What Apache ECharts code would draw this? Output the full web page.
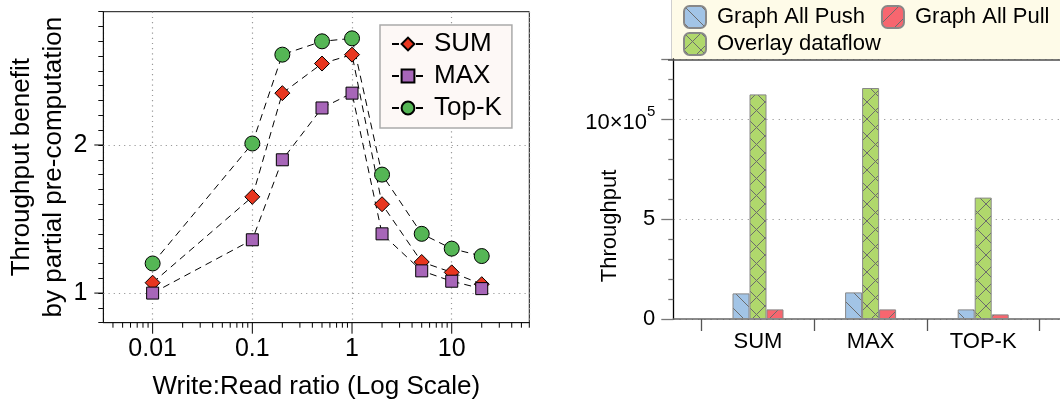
<!DOCTYPE html>
<html><head><meta charset="utf-8">
<script src="https://cdn.jsdelivr.net/npm/echarts@6/dist/echarts.min.js"></script>
<style>html,body{margin:0;padding:0;background:#fff}#c{width:1060px;height:408px}</style>
</head><body><div id="c"></div>
<script>
// ---- Left chart data ----
const ratios = [0.01, 0.1, 0.2, 0.5, 1, 2, 5, 10, 20];
const sumVals = [1.07, 1.65, 2.35, 2.55, 2.61, 1.60, 1.21, 1.14, 1.06];
const maxVals = [1.00, 1.36, 1.90, 2.25, 2.35, 1.40, 1.15, 1.08, 1.03];
const topkVals = [1.20, 2.01, 2.61, 2.70, 2.72, 1.80, 1.40, 1.30, 1.25];
const lineNames = ['SUM', 'MAX', 'Top-K'];
const xMajorTicks = [0.01, 0.1, 1, 10];
const xMinorTicks = [0.004, 0.005, 0.006, 0.007, 0.008, 0.009,
  0.02, 0.03, 0.04, 0.05, 0.06, 0.07, 0.08, 0.09,
  0.2, 0.3, 0.4, 0.5, 0.6, 0.7, 0.8, 0.9,
  2, 3, 4, 5, 6, 7, 8, 9, 20, 30, 40, 50, 60];
const yTickLabels = [1, 2];

// ---- Right chart data ----
const aggregates = ['SUM', 'MAX', 'TOP-K'];
const barNames = ['Graph All Push', 'Graph All Pull', 'Overlay dataflow'];
const pushVals = [128000, 133000, 48000];
const overlayVals = [1123000, 1155000, 607000];
const pullVals = [48000, 48000, 23000];

const FONT = '"Liberation Sans", Arial, Helvetica, sans-serif';

function hatch(bg, kind) {
  const s = 17;
  const c = document.createElement('canvas');
  c.width = s; c.height = s;
  const g = c.getContext('2d');
  g.fillStyle = bg; g.fillRect(0, 0, s, s);
  g.strokeStyle = '#6c6c6c'; g.lineWidth = 1;
  g.beginPath();
  if (kind.indexOf('\\') >= 0) { g.moveTo(0, 0); g.lineTo(s, s); }
  if (kind.indexOf('/') >= 0) { g.moveTo(s, 0); g.lineTo(0, s); }
  g.stroke();
  return c;
}
const bluePat = { image: hatch('#a2c4e6', '\\'), repeat: 'repeat' };
const greenPat = { image: hatch('#b0d86c', '\\/'), repeat: 'repeat' };
const redPat = { image: hatch('#f7666f', '/'), repeat: 'repeat' };

function pairs(xs, ys) { return xs.map((x, i) => [x, ys[i]]); }

// ticks drawn through the axes' own scale (api.coord)
function xTickSeries(vals, len) {
  return {
    type: 'custom', xAxisIndex: 0, yAxisIndex: 0, silent: true, clip: false, z: 6,
    data: vals.map(v => [v, 1]),
    renderItem: function (params, api) {
      const p = api.coord([api.value(0), api.value(1)]);
      const bottom = params.coordSys.y + params.coordSys.height;
      return { type: 'line', shape: { x1: p[0], y1: bottom, x2: p[0], y2: bottom + len },
        style: { stroke: '#000', lineWidth: 1 } };
    }
  };
}
function yTickSeries(vals, len) {
  return {
    type: 'custom', xAxisIndex: 0, yAxisIndex: 0, silent: true, clip: false, z: 6,
    data: vals.map(v => [1, v]),
    renderItem: function (params, api) {
      const p = api.coord([api.value(0), api.value(1)]);
      const left = params.coordSys.x;
      return { type: 'line', shape: { x1: left - len, y1: p[1], x2: left, y2: p[1] },
        style: { stroke: '#000', lineWidth: 1 } };
    }
  };
}

const dotted = { color: '#999', width: 1.2, type: [1.2, 4] };
const dashed = { color: '#000', width: 1, type: [7, 5] };

const chart = echarts.init(document.getElementById('c'));
const option = {
  animation: false,
  textStyle: { fontFamily: FONT, color: '#000' },
  graphic: [
    { type: 'rect', z: -10, shape: { x: 671.5, y: -2, width: 400, height: 62 },
      style: { fill: '#fefbe8', stroke: '#cfcfcf', lineWidth: 1 } },
    { type: 'line', z: 10, shape: { x1: 668, y1: 60, x2: 1060, y2: 60 },
      style: { stroke: '#555', lineWidth: 1.5 } },
    { type: 'text', x: 610, y: 226, rotation: Math.PI / 2,
      style: { text: 'Throughput', font: '22px ' + FONT, fill: '#000', align: 'center', verticalAlign: 'middle' } }
  ],
  legend: [
    { data: lineNames, orient: 'vertical', left: 380, top: 25, padding: [6, 10, 7, 11],
      itemGap: 6, itemWidth: 32, itemHeight: 16,
      backgroundColor: '#fdf8f6', borderColor: '#aaa', borderWidth: 1.5,
      textStyle: { fontSize: 26, fontFamily: FONT, color: '#000', padding: [0, 0, 0, 5] } },
    { data: [barNames[0], barNames[1]], orient: 'horizontal', left: 683, top: 5,
      itemGap: 16, itemWidth: 22, itemHeight: 22, icon: 'roundRect', padding: 0,
      textStyle: { fontSize: 22, fontFamily: FONT, color: '#000', padding: [0, 0, 0, 6] } },
    { data: [barNames[2]], orient: 'horizontal', left: 683, top: 32,
      itemGap: 16, itemWidth: 22, itemHeight: 22, icon: 'roundRect', padding: 0,
      textStyle: { fontSize: 22, fontFamily: FONT, color: '#000', padding: [0, 0, 0, 6] } }
  ],
  grid: [
    { left: 103.3, right: 1060 - 529.3, top: 11.7, bottom: 408 - 322.7, show: true,
      borderColor: '#111', borderWidth: 1, backgroundColor: 'transparent' },
    { left: 701.7, right: 1060 - 1039.5, top: 59, bottom: 89 },
    { left: 673.3, right: -30, top: 59, bottom: 89 }
  ],
  xAxis: [
    { gridIndex: 0, type: 'log', logBase: 10, min: 0.0032, max: 60,
      axisLine: { lineStyle: { color: '#111', width: 1 } },
      axisTick: { show: false },
      splitLine: { show: true, lineStyle: dotted },
      axisLabel: { fontSize: 25, color: '#000', fontFamily: FONT, margin: 14,
        showMinLabel: false, showMaxLabel: false,
        formatter: function (v) {
          const l = Math.log10(v);
          if (Math.abs(l - Math.round(l)) > 1e-6) return '';
          return String(parseFloat(Math.pow(10, Math.round(l)).toPrecision(6)));
        } },
      name: 'Write:Read ratio (Log Scale)', nameLocation: 'middle', nameGap: 51,
      nameTextStyle: { fontSize: 26, color: '#000', fontFamily: FONT } },
    { gridIndex: 1, type: 'category', data: aggregates,
      axisLine: { show: false },
      axisTick: { show: true, length: 12, lineStyle: { color: '#555', width: 1.3 } },
      axisLabel: { fontSize: 22, color: '#000', fontFamily: FONT, margin: 12 } },
    { gridIndex: 2, type: 'value', min: 0, max: 1,
      axisLine: { show: true, lineStyle: { color: '#666', width: 1.5 } },
      axisTick: { show: false }, axisLabel: { show: false }, splitLine: { show: false } }
  ],
  yAxis: [
    { gridIndex: 0, type: 'value', min: 0.8, max: 2.9, interval: 0.1,
      axisLine: { lineStyle: { color: '#111', width: 1 } },
      axisTick: { show: true, length: 5, lineStyle: { color: '#111' } },
      splitLine: { show: false },
      axisLabel: { fontSize: 25, color: '#000', fontFamily: FONT, margin: 16,
        formatter: function (v) {
          const r = Math.round(v * 1000) / 1000;
          return yTickLabels.indexOf(r) >= 0 ? String(r) : '';
        } },
      name: 'Throughput benefit\nby partial pre-computation', nameLocation: 'middle', nameGap: 32,
      nameTextStyle: { fontSize: 26, color: '#000', fontFamily: FONT, lineHeight: 32 } },
    { gridIndex: 1, type: 'value', min: 0, max: 1300000, show: false },
    { gridIndex: 2, type: 'value', min: 0, max: 1300000, interval: 500000,
      axisLine: { show: true, lineStyle: { color: '#000', width: 1.3 } },
      axisTick: { show: true, length: 12, lineStyle: { color: '#777', width: 1.3 } },
      minorTick: { show: true, splitNumber: 5, length: 5, lineStyle: { color: '#777', width: 1.3 } },
      splitLine: { show: true, lineStyle: { color: '#999', width: 1.2, type: [1.2, 5] } },
      axisLabel: { fontSize: 22, color: '#000', fontFamily: FONT, margin: 18, showMaxLabel: false,
        formatter: function (v) {
          if (v === 0) return '0';
          if (v === 500000) return '5';
          if (v === 1000000) return '{a|10×10}{s|5}';
          return '';
        },
        rich: { a: { fontSize: 22, fontFamily: FONT, color: '#000', lineHeight: 30, verticalAlign: 'bottom' },
                s: { fontSize: 15, fontFamily: FONT, color: '#000', lineHeight: 30, verticalAlign: 'top' } } } }
  ],
  series: [
    { name: 'SUM', type: 'line', xAxisIndex: 0, yAxisIndex: 0, data: pairs(ratios, sumVals),
      symbol: 'diamond', symbolSize: [15, 15], z: 3,
      lineStyle: dashed,
      itemStyle: { color: '#e8361f', borderColor: '#000', borderWidth: 1 },
      markLine: { silent: true, symbol: 'none', label: { show: false }, z: 1,
        lineStyle: dotted, data: yTickLabels.map(v => ({ yAxis: v })) } },
    { name: 'MAX', type: 'line', xAxisIndex: 0, yAxisIndex: 0, data: pairs(ratios, maxVals),
      symbol: 'rect', symbolSize: 12, z: 3,
      lineStyle: dashed,
      itemStyle: { color: '#a766b8', borderColor: '#000', borderWidth: 1 } },
    { name: 'Top-K', type: 'line', xAxisIndex: 0, yAxisIndex: 0, data: pairs(ratios, topkVals),
      symbol: 'circle', symbolSize: 15, z: 3,
      lineStyle: dashed,
      itemStyle: { color: '#55b655', borderColor: '#000', borderWidth: 1 } },
    xTickSeries(xMajorTicks, 11),
    xTickSeries(xMinorTicks, 5),
    yTickSeries(yTickLabels, 9),
    { name: 'Graph All Push', type: 'bar', xAxisIndex: 1, yAxisIndex: 1, data: pushVals,
      barWidth: 17, barGap: '0%', itemStyle: { color: bluePat, borderColor: '#888', borderWidth: 1 } },
    { name: 'Overlay dataflow', type: 'bar', xAxisIndex: 1, yAxisIndex: 1, data: overlayVals,
      barWidth: 17, barGap: '0%', itemStyle: { color: greenPat, borderColor: '#888', borderWidth: 1 } },
    { name: 'Graph All Pull', type: 'bar', xAxisIndex: 1, yAxisIndex: 1, data: pullVals,
      barWidth: 17, barGap: '0%', itemStyle: { color: redPat, borderColor: '#888', borderWidth: 1 } }
  ]
};
chart.setOption(option);
</script></body></html>
